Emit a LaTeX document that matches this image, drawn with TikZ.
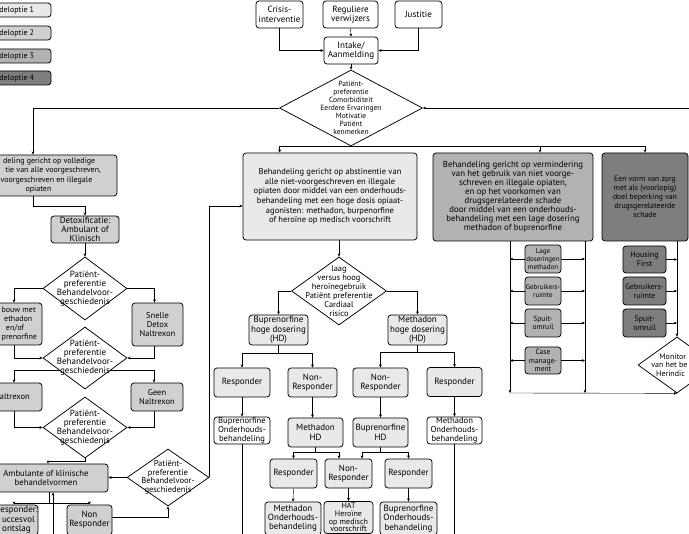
\documentclass[tikz,border=0pt]{standalone}
\usepackage{fontspec}
\setmainfont{PT Sans}
\usepackage{tikz}
\usetikzlibrary{shapes.geometric,arrows.meta}
\pgfdeclarelayer{background}
\pgfdeclarelayer{foreground}
\pgfsetlayers{background,main,foreground}
\definecolor{optieA}{HTML}{E9E9E9}
\definecolor{optieB}{HTML}{D0D0D0}
\definecolor{optieC}{HTML}{B2B2B2}
\definecolor{optieD}{HTML}{7E7E7E}
\tikzset{
  blok/.style={draw, rounded corners=3pt, align=center, inner sep=0pt, font=\fontsize{9}{9.3}\selectfont},
  wh/.style 2 args={minimum width=#1pt, minimum height=#2pt},
  fs/.style 2 args={font=\fontsize{#1}{#2}\selectfont},
  ruit/.style={draw, diamond, fill=white, inner sep=0pt},
  ruittekst/.style={align=center, inner sep=0pt, font=\fontsize{9}{9}\selectfont},
  pijl/.style={-{Stealth[length=3.2pt,width=2.8pt]}},
}
\begin{document}
\begin{tikzpicture}[x=1pt,y=-1pt,line width=0.75pt]
\useasboundingbox (0,0) rectangle (689,534);
\coordinate (onder) at (0,536);
\coordinate (uitR) at (692,108);

% legenda
\node[blok, fill=optieA, wh={90}{14}, fs={8}{9}] (leg1) at (6,10) {\hphantom{Behan}deloptie 1};
\node[blok, fill=optieB, wh={90}{14}, fs={8}{9}] (leg2) at (6,33) {\hphantom{Behan}deloptie 2};
\node[blok, fill=optieC, wh={90}{14}, fs={8}{9}] (leg3) at (6,56) {\hphantom{Behan}deloptie 3};
\node[blok, fill=optieD, wh={90}{14}, fs={8}{9}] (leg4) at (6,78) {\hphantom{Behan}deloptie 4};

% instroom
\node[blok, fill=white, wh={47}{27}] (crisis) at (279.5,14.5) {Crisis-\\interventie};
\node[blok, fill=white, wh={55}{27}] (verwijzers) at (350.5,14.5) {Reguliere\\verwijzers};
\node[blok, fill=white, wh={47}{27}] (justitie) at (418.5,14.5) {Justitie};
\node[blok, fill=white, wh={54}{27}] (intake) at (351,50.5) {Intake/\\Aanmelding};
\node[ruit, wh={143}{76}] (d0) at (351,108) {};
\node[ruittekst, fs={7.5}{8}] (d0t) at (d0) {Patiënt-\\preferentie\\Comorbiditeit\\Eerdere Ervaringen\\Motivatie\\Patiënt\\kenmerken};

% hoofdopties
\node[blok, fill=optieB, wh={157}{41}, fs={8}{9.3}] (vol) at (38.5,175.5) {\hphantom{Behan}deling gericht op volledige\\\hphantom{abstinen}tie van alle voorgeschreven,\\\hphantom{niet-}voorgeschreven en illegale\\opiaten};
\node[blok, fill=optieA, wh={174}{87}, fs={8.5}{9.7}] (abst) at (330,196.5) {Behandeling gericht op abstinentie van\\alle niet-voorgeschreven en illegale\\opiaten door middel van een onderhouds-\\behandeling met een hoge dosis opiaat-\\agonisten:  methadon, burpenorfine\\of heroïne op medisch voorschrift};
\node[blok, fill=optieC, wh={160}{88}, fs={8.8}{9}] (verm) at (513,197) {Behandeling gericht op vermindering\\van het gebruik van niet voorge-\\schreven en illegale opiaten,\\en op het voorkomen van\\drugsgerelateerde schade\\door middel van een onderhouds-\\behandeling met een lage dosering\\methadon of buprenorfine};
\node[blok, fill=optieD, wh={86}{88}, fs={7.8}{9}] (zorg) at (645,197) {Een vorm van zorg\\met als (voorlopig)\\doel beperking van\\drugsgerelateerde\\schade};

% optie 2
\node[blok, fill=optieB, wh={68}{27}] (detox) at (85,229.5) {Detoxificatie:\\Ambulant of\\Klinisch};
\node[ruit, wh={84}{63}] (d1) at (85,288.5) {};
\node[ruittekst] (d1t) at (d1) {Patiënt-\\preferentie\\Behandelvoor-\\geschiedenis};
\node[blok, fill=optieB, wh={54}{42}, fs={8}{9.3}] (afb) at (15,324) {\hphantom{Af}bouw met\\\hphantom{m}ethadon\\en/of\\\hphantom{bu}prenorfine};
\node[blok, fill=optieB, wh={51}{43}, fs={8.5}{9.3}] (snel) at (157.5,324.5) {Snelle\\Detox\\Naltrexon};
\node[ruit, wh={84}{62}] (d2) at (85,358) {};
\node[ruittekst] (d2t) at (d2) {Patiënt-\\preferentie\\Behandelvoor-\\geschiedenis};
\node[blok, fill=optieB, wh={60}{28}, fs={8.5}{9.3}] (nalt) at (12,397) {\hphantom{N}altrexon};
\node[blok, fill=optieB, wh={52}{28}, fs={8.5}{9.3}] (geen) at (157,397) {Geen\\Naltrexon};
\node[ruit, wh={84}{61}] (d3) at (85,427.5) {};
\node[ruittekst] (d3t) at (d3) {Patiënt-\\preferentie\\Behandelvoor-\\geschiedenis};
\node[blok, fill=optieB, wh={124}{28}, fs={8.7}{9.3}] (amb) at (46,478) {Ambulante of klinische\\behandelvormen};
\node[ruit, wh={82}{57}] (d4) at (168,477.5) {};
\node[ruittekst, fs={8.5}{8.5}] (d4t) at (d4) {Patiënt-\\preferentie\\Behandelvoor-\\geschiedenis};
\node[blok, fill=optieB, wh={43}{30}] (resp0) at (16.5,520) {\hphantom{R}esponder:\\\hphantom{s}uccesvol\\ontslag};
\node[blok, fill=optieB, wh={45}{30}] (nonr0) at (89.5,520) {Non\\Responder};

% optie 1
\node[ruit, wh={95}{68}] (d5) at (339,291) {};
\node[ruittekst, fs={8.4}{9}] (d5t) at (d5) {laag\\versus hoog\\heroïnegebruik\\Patiënt preferentie\\Cardiaal\\risico};
\node[blok, fill=optieA, wh={59}{30}] (bhd) at (278.5,330) {Buprenorfine\\hoge dosering\\(HD)};
\node[blok, fill=optieA, wh={59}{30}] (mhd) at (417.5,330) {Methadon\\hoge dosering\\(HD)};
\node[blok, fill=optieA, wh={56}{29}] (resp1) at (242,382.5) {Responder};
\node[blok, fill=optieA, wh={49}{29}] (nonr1) at (312.5,382.5) {Non-\\Responder};
\node[blok, fill=optieA, wh={55}{29}] (nonr2) at (380.5,382.5) {Non-\\Responder};
\node[blok, fill=optieA, wh={55}{29}] (resp2) at (454.5,382) {Responder};
\node[blok, fill=white, wh={56}{27}, fs={8.6}{8.8}] (bond1) at (242,430.5) {Buprenorfine\\Onderhouds-\\behandeling};
\node[blok, fill=optieA, wh={55}{29}] (mhd2) at (315.5,432.5) {Methadon\\HD};
\node[blok, fill=optieA, wh={55}{29}] (bhd2) at (380.5,432.5) {Buprenorfine\\HD};
\node[blok, fill=white, wh={55}{27}, fs={8.6}{8.8}] (mond1) at (454.5,430.5) {Methadon\\Onderhouds-\\behandeling};
\node[blok, fill=optieA, wh={47}{29}] (resp3) at (293.5,473.5) {Responder};
\node[blok, fill=optieA, wh={47}{29}] (nonr3) at (348.5,473.5) {Non-\\Responder};
\node[blok, fill=optieA, wh={47}{29}] (resp4) at (408.5,473.5) {Responder};
\node[blok, fill=optieA, wh={56}{33}] (mond2) at (293,518.5) {Methadon\\Onderhouds-\\behandeling};
\node[blok, fill=optieA, wh={49}{32}, fs={8}{7.8}] (hat) at (348.5,517.5) {HAT\\Heroïne\\op medisch\\voorschrift};
\node[blok, fill=optieA, wh={57}{33}] (bond2) at (408.5,518.5) {Buprenorfine\\Onderhouds-\\behandeling};

% optie 3
\node[blok, fill=optieC, wh={36}{28}, fs={7}{8.3}] (lage) at (543,259) {Lage\\doseringen\\methadon};
\node[blok, fill=optieC, wh={36}{28}, fs={7}{8.5}] (gebr1) at (543,291) {Gebruikers-\\ruimte};
\node[blok, fill=optieC, wh={36}{28}, fs={7.5}{8.5}] (spuit1) at (543,323) {Spuit-\\omruil};
\node[blok, fill=optieC, wh={36}{27}, fs={7.5}{8.3}] (case) at (543,360.5) {Case\\manage-\\ment};

% optie 4
\node[blok, fill=optieD, wh={43}{27}, fs={8}{9}] (housing) at (644.5,259.5) {Housing\\First};
\node[blok, fill=optieD, wh={43}{28}, fs={7.8}{9}] (gebr2) at (644.5,291) {Gebruikers-\\ruimte};
\node[blok, fill=optieD, wh={43}{28}, fs={8}{9}] (spuit2) at (644.5,323) {Spuit-\\omruil};
\node[ruit, wh={78}{56}] (mon) at (677,365) {};
\node[ruittekst, fs={8}{8.5}] (mont) at (mon) {Monitor\hphantom{en}\\van het be\hphantom{loop}\\Herindic\hphantom{atie}};

\coordinate (split2) at (85,370);
\coordinate (ambin) at ([xshift=7pt]amb.south);
\coordinate (ambuit) at ([xshift=3pt]amb.south);
\coordinate (vl) at (510,393);
\coordinate (vr) at (585,393);

\begin{pgfonlayer}{background}
\draw[pijl] (crisis.south) |- (intake.west);
\draw[pijl] (verwijzers.south) -- (intake.north);
\draw[pijl] (justitie.south) |- (intake.east);
\draw[pijl] (intake.south) -- (d0.north);
\draw[pijl] (d0.west) -| ([xshift=-5.5pt]vol.north);
\draw[{Stealth[length=3.2pt,width=2.8pt]}-] (d0.east) -- (uitR);
\draw[pijl] (d0.south) -| ([xshift=37pt]abst.north west);
\draw[pijl] (d0.south) -| ([xshift=27pt]verm.north);
\draw[pijl] (d0.south) -| (zorg.north);
% optie 2
\draw[pijl] ([xshift=-5.5pt]vol.south) -- ++(0,10) -| (detox.north);
\draw[pijl] (detox.south) -- (d1.north);
\draw[pijl] (d1.west) -| ([xshift=-1pt]afb.north);
\draw[pijl] (d1.east) -| ([xshift=-3pt]snel.north);
\draw[pijl] ([xshift=-1pt]afb.south) |- (d2.west);
\draw[pijl] ([xshift=-3pt]snel.south) |- (d2.east);
\draw[pijl] (split2) -| ([xshift=2pt]nalt.north);
\draw[pijl] (split2) -| ([xshift=-3pt]geen.north);
\draw[pijl] ([xshift=2pt]nalt.south) |- (d3.west);
\draw[pijl] ([xshift=-3pt]geen.south) |- (d3.east);
\draw[pijl] (d3.south) -- ++(0,3) -| ([xshift=2pt]amb.north);
\draw[pijl] (d4.west) -- (d4.west -| amb.east);
\draw[pijl] (d4.east) |- ([yshift=-9.5pt]abst.west);
\draw[pijl] (ambuit) -- ++(0,11) -| ([xshift=-2.5pt]resp0.north);
\draw[pijl] (ambuit) -- ++(0,11) -| (nonr0.north);
\draw[pijl] (ambin |- onder) -- (ambin);
\draw[pijl] ([yshift=3pt]nonr0.east) -| (d4.south);
% optie 1
\draw[pijl] (abst.south -| d5.north) -- (d5.north);
\draw[pijl] (d5.west) -| (bhd.north);
\draw[pijl] (d5.east) -| (mhd.north);
\draw[pijl] (bhd.south) -- ++(0,8) -| (resp1.north);
\draw[pijl] (bhd.south) -- ++(0,8) -| (nonr1.north);
\draw[pijl] (mhd.south) -- ++(0,7) -| (nonr2.north);
\draw[pijl] (mhd.south) -- ++(0,7) -| (resp2.north);
\draw[pijl] (resp1.south) -- (bond1.north);
\draw[pijl] (nonr1.south) -- (nonr1.south |- mhd2.north);
\draw[pijl] (nonr2.south) -- (bhd2.north);
\draw[pijl] (resp2.south) -- (mond1.north);
\draw (bond1.south) -- (bond1.south |- onder);
\draw (mond1.south) -- (mond1.south |- onder);
\draw[pijl] (mhd2.south) -- ++(0,5) -| (resp3.north);
\draw[pijl] (mhd2.south) -- ++(0,5) -| ([xshift=-9.5pt]nonr3.north);
\draw[pijl] (bhd2.south) -- ++(0,5) -| ([xshift=13.5pt]nonr3.north);
\draw[pijl] (bhd2.south) -- ++(0,5) -| (resp4.north);
\draw[pijl] (resp3.south) -- (mond2.north);
\draw[pijl] (nonr3.south) -- (hat.north);
\draw[pijl] (resp4.south) -- (bond2.north);
% optie 3 en 4
\draw[pijl] (verm.south -| vl) -- (vl);
\draw[pijl] (verm.south -| vr) -- (vr);
\draw[pijl] (vl) -- (mon.south);
\foreach \b in {lage,gebr1,spuit1,case} {
  \draw[pijl] (\b.west) -- (\b.west -| vl);
  \draw[pijl] (\b.east) -- (\b.east -| vr);
}
\draw[pijl] (zorg.south -| mon.north) -- (mon.north);
\foreach \b in {housing,gebr2,spuit2}
  \draw[pijl] (\b.east) -- (\b.east -| mon.north);
\end{pgfonlayer}
\end{tikzpicture}
\end{document}
